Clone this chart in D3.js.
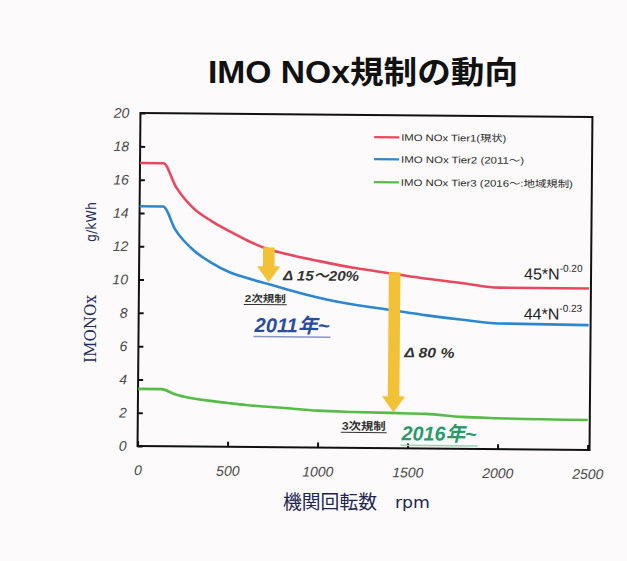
<!DOCTYPE html>
<html>
<head>
<meta charset="utf-8">
<script src="https://cdn.jsdelivr.net/npm/d3@7"></script>
<style>
  html, body { margin: 0; padding: 0; background: #fcfafb; }
  svg { display: block; }
</style>
</head>
<body>
<svg id="chart" width="627" height="561"></svg>
<script>
// ---- data ----
const chartTitle = "IMO NOx規制の動向";
const rpm   = [0, 130, 200, 300, 400, 500, 600, 700, 800, 1000, 1200, 1400, 1600, 1800, 2000, 2500];
const tier1 = [17.0, 17.0, 15.6, 14.3, 13.55, 12.95, 12.4, 11.95, 11.65, 11.2, 10.8, 10.5, 10.2, 9.95, 9.7, 9.7];
const tier2 = [14.4, 14.4, 13.0, 11.8, 11.05, 10.5, 10.15, 9.85, 9.55, 9.0, 8.6, 8.3, 8.0, 7.75, 7.55, 7.5];
const tier3 = [3.43, 3.43, 3.15, 2.9, 2.75, 2.63, 2.52, 2.44, 2.37, 2.22, 2.16, 2.12, 2.08, 1.92, 1.86, 1.8];
const seriesNames  = ["IMO NOx Tier1(現状)", "IMO NOx Tier2 (2011～)", "IMO NOx Tier3 (2016～:地域規制)"];
const seriesColors = ["#e8485f", "#2d87cf", "#56bb48"];
const xTicks = [0, 500, 1000, 1500, 2000, 2500];
const yTicks = [0, 2, 4, 6, 8, 10, 12, 14, 16, 18, 20];
// reduction arrows: rpm position, start value, end value
const arrowRpm  = [720, 1420];
const arrowFrom = [12.0, 10.57];
const arrowTo   = [9.9, 2.16];

const LATIN = "'Liberation Sans', Arial, 'Noto Sans CJK JP', sans-serif";
const svg = d3.select("#chart");

svg.append("rect").attr("width", 627).attr("height", 561).attr("fill", "#fcfafb");

// title
svg.append("text")
  .attr("x", 208).attr("y", 83)
  .attr("textLength", 310).attr("lengthAdjust", "spacingAndGlyphs")
  .style("font-family", "'Liberation Sans', 'Noto Sans CJK JP', sans-serif")
  .style("font-weight", "bold").style("font-size", "31px")
  .attr("fill", "#111")
  .text(chartTitle);

// axis titles
svg.append("text")
  .attr("transform", "translate(96,363) rotate(-90)")
  .attr("textLength", 68).attr("lengthAdjust", "spacingAndGlyphs")
  .style("font-family", "'DejaVu Serif', serif").style("font-size", "16px")
  .attr("fill", "#1f2b5c").text("IMONOx");
svg.append("text")
  .attr("transform", "translate(96,242) rotate(-90)")
  .attr("textLength", 40).attr("lengthAdjust", "spacingAndGlyphs")
  .style("font-family", "'DejaVu Sans', sans-serif").style("font-size", "14px")
  .attr("fill", "#1f2b5c").text("g/kWh");
svg.append("text")
  .attr("x", 283).attr("y", 509)
  .attr("textLength", 94).attr("lengthAdjust", "spacingAndGlyphs")
  .style("font-family", "'Noto Sans CJK JP', sans-serif").style("font-size", "19px")
  .attr("fill", "#1c2550").text("機関回転数");
svg.append("text")
  .attr("x", 395).attr("y", 508)
  .attr("textLength", 35).attr("lengthAdjust", "spacingAndGlyphs")
  .style("font-family", "'DejaVu Sans', sans-serif").style("font-size", "15px")
  .attr("fill", "#1c2550").text("rpm");

// plot area (the sheet sits very slightly rotated)
const g = svg.append("g").attr("transform", "rotate(0.5,365,280)");

const x = d3.scaleLinear().domain([0, 2500]).range([139, 589]);
const y = d3.scaleLinear().domain([0, 20]).range([448, 115]);

// axes with inward ticks
const yAxis = g.append("g").attr("transform", `translate(${x(0)},0)`)
  .call(d3.axisLeft(y).tickValues(yTicks).tickFormat(d3.format("d"))
    .tickSizeInner(-5).tickSizeOuter(0).tickPadding(11));
const xAxis = g.append("g").attr("transform", `translate(0,${y(0)})`)
  .call(d3.axisBottom(x).tickValues(xTicks).tickFormat(d3.format("d"))
    .tickSizeInner(-5).tickSizeOuter(0).tickPadding(19));
[yAxis, xAxis].forEach(a => {
  a.select(".domain").remove();
  a.selectAll(".tick line").attr("stroke", "#111").attr("stroke-width", 2);
  a.selectAll(".tick text")
    .style("font-family", LATIN).style("font-style", "italic").style("font-size", "14px")
    .attr("fill", "#4a4a4a");
});

// frame
g.append("rect")
  .attr("x", x(0)).attr("y", y(20))
  .attr("width", x(2500) - x(0) + 2).attr("height", y(0) - y(20))
  .attr("fill", "none").attr("stroke", "#111").attr("stroke-width", 2);

// curves
const line = d3.line()
  .x((d, i) => x(rpm[i]))
  .y(d => y(d))
  .curve(d3.curveMonotoneX);
[tier1, tier2, tier3].forEach((s, i) => {
  g.append("path").datum(s)
    .attr("d", line)
    .attr("fill", "none")
    .attr("stroke", seriesColors[i])
    .attr("stroke-width", 2.6);
});

// legend
const legendY = [137, 159, 182];
const legendLen = [105, 123, 172];
seriesNames.forEach((name, i) => {
  g.append("line")
    .attr("x1", 373).attr("x2", 398)
    .attr("y1", legendY[i]).attr("y2", legendY[i])
    .attr("stroke", seriesColors[i]).attr("stroke-width", 2.2);
  g.append("text")
    .attr("x", 400).attr("y", legendY[i] + 3.5)
    .attr("textLength", legendLen[i]).attr("lengthAdjust", "spacingAndGlyphs")
    .style("font-family", LATIN).style("font-size", "9.5px")
    .attr("fill", "#2a2a2a").text(name);
});

// reduction arrows
arrowRpm.forEach((r, i) => {
  const cx = x(r), y0 = y(arrowFrom[i]), y1 = y(arrowTo[i]);
  const sw = 5.8, hw = 11.5, hl = 16;
  const pts = [
    [cx - sw, y0], [cx + sw, y0], [cx + sw, y1 - hl], [cx + hw, y1 - hl],
    [cx, y1], [cx - hw, y1 - hl], [cx - sw, y1 - hl]
  ];
  g.append("path")
    .attr("d", "M" + pts.map(p => p.join(",")).join("L") + "Z")
    .attr("fill", "#f2c136");
});

// annotations
function label(txt, px, py, opts) {
  const t = g.append("text")
    .attr("x", px).attr("y", py)
    .style("font-family", opts.family || LATIN)
    .style("font-size", opts.size + "px")
    .style("font-weight", opts.weight || "normal")
    .style("font-style", opts.style || "normal")
    .attr("fill", opts.fill || "#2a2a2a")
    .text(txt);
  if (opts.len) t.attr("textLength", opts.len).attr("lengthAdjust", "spacingAndGlyphs");
  if (opts.underline) {
    g.append("line")
      .attr("x1", px - 1).attr("x2", px + opts.len + 1)
      .attr("y1", py + opts.underline).attr("y2", py + opts.underline)
      .attr("stroke", opts.ulColor || opts.fill || "#2a2a2a")
      .attr("stroke-width", opts.ulWidth || 1);
  }
  return t;
}
label("Δ 15～20%", 283, 281, {size: 14, weight: "bold", style: "italic", len: 76, fill: "#333"});
label("2次規制", 245, 303, {size: 10, weight: "bold", len: 41, fill: "#333", underline: 2.5});
label("2011年~", 255, 333, {size: 20, weight: "bold", style: "italic", len: 75, fill: "#2b4c9e", underline: 4.5, ulColor: "#8a96c4", ulWidth: 1.5});
label("Δ 80 %", 405, 357, {size: 14, weight: "bold", style: "italic", len: 50, fill: "#333"});
label("3次規制", 343, 430, {size: 11, weight: "bold", len: 44, fill: "#333", underline: 2.5});
label("2016年~", 403, 440, {size: 20, weight: "bold", style: "italic", len: 75, fill: "#2a9a6c", underline: 5, ulColor: "#9fd0b0", ulWidth: 1.5});

// power-law formula labels, exponent as a raised tspan
[["45*N", "-0.20", 278], ["44*N", "-0.23", 318]].forEach(([base, exp, by]) => {
  const t = g.append("text")
    .attr("x", 524).attr("y", by)
    .style("font-family", LATIN).attr("fill", "#222");
  t.append("tspan").style("font-size", "16px").text(base);
  t.append("tspan").attr("dy", -8).style("font-size", "10px").text(exp);
});
</script>
</body>
</html>
